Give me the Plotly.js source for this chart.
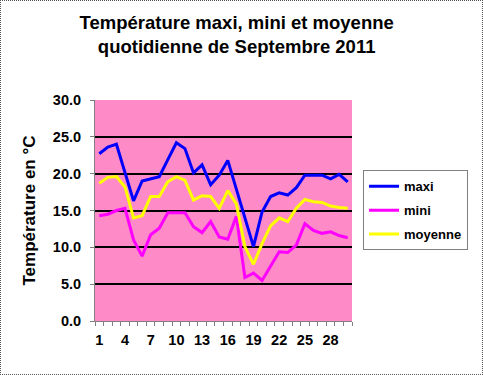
<!DOCTYPE html>
<html>
<head>
<meta charset="utf-8">
<script src="https://cdn.plot.ly/plotly-3.0.1.min.js"></script>
<style>
html,body{margin:0;padding:0;background:#fff;}
#wrap{position:relative;width:483px;height:375px;}
#chart{width:483px;height:375px;}
#frame{position:absolute;left:0;top:0;width:481px;height:373px;border:1px dotted #555;pointer-events:none;}
</style>
</head>
<body>
<div id="wrap"><div id="chart"></div><div id="frame"></div></div>
<script>
const days = [1,2,3,4,5,6,7,8,9,10,11,12,13,14,15,16,17,18,19,20,21,22,23,24,25,26,27,28,29,30];
const maxi = [22.7,23.6,24.0,20.0,16.3,19.0,19.3,19.6,21.9,24.2,23.4,20.1,21.2,18.5,19.8,21.8,17.9,14.0,10.1,14.8,16.9,17.4,17.1,18.1,19.8,19.8,19.8,19.3,19.9,18.9];
const mini = [14.3,14.5,15.0,15.3,11.0,8.8,11.7,12.6,14.7,14.7,14.7,12.8,12.0,13.5,11.4,11.1,14.2,5.9,6.5,5.5,7.4,9.4,9.3,10.3,13.2,12.3,11.9,12.1,11.6,11.3];
const moyenne = [18.7,19.5,19.6,18.2,14.0,14.3,16.9,16.9,18.9,19.6,19.1,16.4,17.0,16.9,15.3,17.7,15.9,10.1,7.7,10.5,12.9,14.0,13.5,15.3,16.5,16.2,16.1,15.6,15.4,15.3];
const xTickLabels = ['1','4','7','10','13','16','19','22','25','28'];
const xTickVals = [1,4,7,10,13,16,19,22,25,28];

const font = 'Arial, "Liberation Sans", sans-serif';
const traces = [
  {x: days, y: maxi, name: 'maxi', mode: 'lines', line: {color: '#0000FF', width: 3}, legendgroup: 'a'},
  {x: days, y: mini, name: 'mini', mode: 'lines', line: {color: '#FF00FF', width: 3}, legendgroup: 'b'},
  {x: days, y: moyenne, name: 'moyenne', mode: 'lines', line: {color: '#FFFF00', width: 3}, legendgroup: 'c'}
];
const layout = {
  width: 483, height: 375,
  margin: {l: 95, r: 131, t: 100, b: 54},
  paper_bgcolor: 'rgba(0,0,0,0)',
  plot_bgcolor: '#FF8AC8',
  font: {family: font, color: '#000'},
  title: {
    text: '<b>Température maxi, mini et moyenne<br>quotidienne de Septembre 2011</b>',
    font: {family: font, size: 18.5, color: '#000'},
    x: 0.49, xanchor: 'center', yref: 'container', y: 0.922, yanchor: 'top'
  },
  xaxis: {
    range: [0.5, 30.5],
    tickvals: xTickVals, ticktext: xTickLabels,
    ticks: '', showgrid: false, zeroline: false,
    showline: true, linecolor: '#808080', linewidth: 1,
    tickfont: {family: font, size: 14.5, color: '#000', weight: 'bold'},
    ticklabelstandoff: 6,
    minor: {tick0: 0.5, dtick: 1, ticks: 'outside', ticklen: 4, tickcolor: '#808080', tickwidth: 1, showgrid: false},
    fixedrange: true
  },
  yaxis: {
    range: [0, 30], dtick: 5, tickformat: '.1f',
    showgrid: true, gridcolor: '#000', gridwidth: 2,
    zeroline: false, showline: true, linecolor: '#808080', linewidth: 1,
    ticks: 'outside', ticklen: 4, tickcolor: '#808080',
    tickfont: {family: font, size: 14.5, color: '#000', weight: 'bold'},
    ticklabelstandoff: 6,
    title: {text: '<b>Température en °C</b>', font: {family: font, size: 17, color: '#000'}, standoff: 12},
    fixedrange: true
  },
  legend: {
    x: 1.043, y: 0.682, xanchor: 'left', yanchor: 'top',
    bordercolor: '#808080', borderwidth: 1, bgcolor: '#fff',
    font: {family: font, size: 13, color: '#000', weight: 'bold'},
    tracegroupgap: 4
  },
  showlegend: true
};
Plotly.newPlot('chart', traces, layout, {staticPlot: true});
</script>
</body>
</html>
